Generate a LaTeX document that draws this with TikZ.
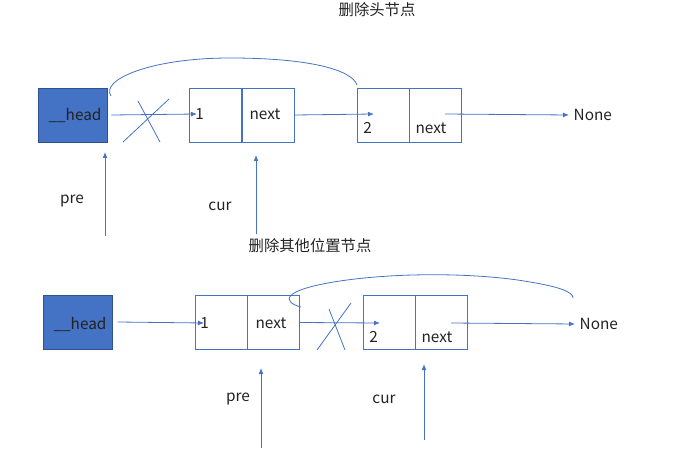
\documentclass[tikz,border=0pt]{standalone}
\usepackage{fontspec}
\setmainfont{Noto Sans CJK SC}
\usetikzlibrary{arrows.meta, positioning}
\definecolor{c1}{HTML}{4472C4}
\definecolor{c2}{HTML}{2F528F}
\definecolor{txt}{HTML}{222222}

\begin{document}
\begin{tikzpicture}[
    x=0.75pt, y=-0.75pt,
    every node/.style={font=\fontsize{11.5}{13}\selectfont, text=txt},
    headbox/.style={draw=c2, fill=c1, line width=0.6pt, minimum width=51.75pt, minimum height=40.5pt, inner sep=0pt},
    half/.style={draw=c1, line width=0.6pt, minimum width=39pt, minimum height=40.5pt, inner sep=0pt},
    link/.style={c1, line width=0.6pt, -{Latex[length=4.5pt, width=3.6pt]}},
    cut/.style={c1, line width=0.6pt},
]
\useasboundingbox (0,0) rectangle (686,449);

% delete the head
\node (t1) at (377,10) {删除头节点};
\node[headbox] (ha) at (72.5,115) {};
\node (hatext) at (75,115) {\_\_head};
\node[half] (a1d) at (215.5,115) {};
\node[half, right=0pt of a1d] (a1n) {};
\node[half] (a2d) at (383,115) {};
\node[half, right=0pt of a2d] (a2n) {};
\node[anchor=west, inner sep=0pt] (a1v) at (195,114) {1};
\node (a1t) at (265,114) {next};
\node[anchor=west, inner sep=0pt] (a2v) at (363,128) {2};
\node (a2t) at (431,128) {next};
\node[anchor=west] (anone) at (569,115) {None};

\coordinate (ap1) at (197,114);
\coordinate (ap2) at (374,114);
\draw[link] ([xshift=3pt]ha.east) -- (ap1);
\draw[link] (a1n.east) -- (ap2);
\draw[link] (445,114) -- (anone.west);
\draw[cut] (138,101) -- (160,142);
\draw[cut] (169,99) -- (123,142);

% head now points past node 1
\draw[c1, line width=0.6pt] (111,96) .. controls (100,80) and (150,58) .. (230,58)
    .. controls (310,58) and (352,70) .. (357,85);

\coordinate (apre) at (105,236);
\coordinate (apre-t) at (105,152);
\coordinate (acur) at (256,234);
\coordinate (acur-t) at (256,155);
\draw[link] (apre) -- (apre-t);
\draw[link] (acur) -- (acur-t);
\node (apret) at (72,201) {pre};
\node (acurt) at (220,206) {cur};

% delete another node
\node (t2) at (310,246) {删除其他位置节点};
\node[headbox] (hb) at (77.5,322) {};
\node (hbtext) at (80,324) {\_\_head};
\node[half] (b1d) at (221,322.5) {};
\node[half, right=0pt of b1d] (b1n) {};
\node[half] (b2d) at (389,322.5) {};
\node[half, right=0pt of b2d] (b2n) {};
\node[anchor=west, inner sep=0pt] (b1v) at (200,323) {1};
\node (b1t) at (271,323) {next};
\node[anchor=west, inner sep=0pt] (b2v) at (369,337) {2};
\node (b2t) at (437,337) {next};
\node[anchor=west] (bnone) at (575,324) {None};

\coordinate (bp1) at (204,323);
\coordinate (bp2) at (380,323);
\draw[link] ([xshift=4pt]hb.east) -- (bp1);
\draw[link] (b1n.east) -- (bp2);
\draw[link] (451,323) -- (bnone.west);
\draw[cut] (317,350) -- (351,303);
\draw[cut] (329,309) -- (345,350);

% node 1 now points past node 2
\draw[c1, line width=0.6pt] (301,307) .. controls (282,302) and (280,290) .. (340,281)
    .. controls (400,272) and (480,273) .. (530,282)
    .. controls (560,287) and (573,292) .. (573,298);

\coordinate (bpre) at (261,448);
\coordinate (bpre-t) at (261,368);
\coordinate (bcur) at (424,440);
\coordinate (bcur-t) at (424,364);
\draw[link] (bpre) -- (bpre-t);
\draw[link] (bcur) -- (bcur-t);
\node (bpret) at (238,399) {pre};
\node (bcurt) at (384,399) {cur};
\end{tikzpicture}
\end{document}
